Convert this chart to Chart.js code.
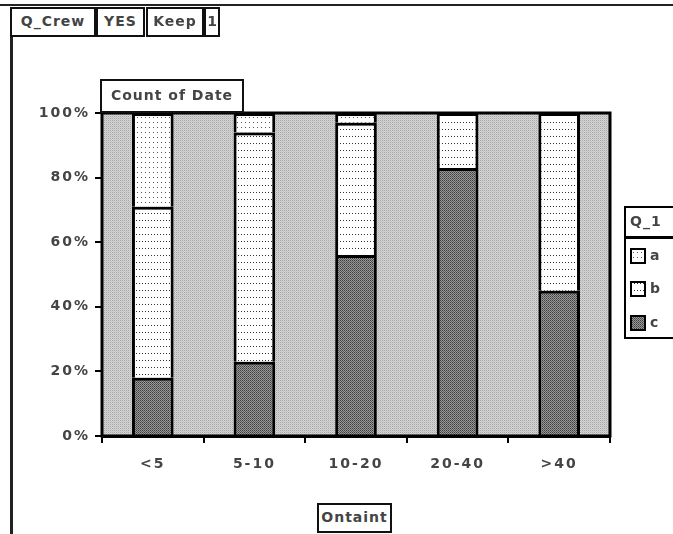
<!DOCTYPE html>
<html>
<head>
<meta charset="utf-8">
<script src="https://cdn.jsdelivr.net/npm/chart.js@4/dist/chart.umd.min.js"></script>
<style>
  body { margin: 0; background: #fff; width: 673px; height: 534px; overflow: hidden; position: relative; }
  #wrap { position: absolute; left: 0; top: 0; width: 673px; height: 534px; }
  .btn { position: absolute; border: 2px solid #111; background: #fff; color: #444;
         font: bold 14px "DejaVu Sans", sans-serif; letter-spacing: 1px; line-height: 25px;
         text-align: center; box-sizing: border-box; white-space: nowrap; overflow: hidden; }
  .line { position: absolute; background: #222; }
</style>
</head>
<body>
<div id="wrap"><canvas id="myChart" width="673" height="534"></canvas></div>

<!-- sheet frame lines -->
<div class="line" style="left:0;top:4px;width:673px;height:2px;"></div>
<div class="line" style="left:10px;top:36px;width:3px;height:498px;"></div>

<!-- pivot field buttons -->
<div class="btn" style="left:10px;top:7px;width:86px;height:30px;">Q_Crew</div>
<div class="btn" style="left:96px;top:7px;width:49px;height:30px;">YES</div>
<div class="btn" style="left:146px;top:7px;width:58px;height:30px;">Keep</div>
<div class="btn" style="left:204px;top:7px;width:16px;height:30px;letter-spacing:0;">1</div>
<div class="btn" style="left:100px;top:79px;width:144px;height:34px;line-height:29px;">Count of Date</div>
<div class="btn" style="left:317px;top:503px;width:75px;height:30px;">Ontaint</div>

<script>
const categories = ['<5', '5-10', '10-20', '20-40', '>40'];
// percent of each bar (100% stacked)
const seriesA = [29, 6, 3, 0, 0];
const seriesB = [53, 71, 41, 17, 55];
const seriesC = [18, 23, 56, 83, 45];
const yTicks = [0, 20, 40, 60, 80, 100];
const legendTitle = 'Q_1';

// little pixel patterns like the old excel fills
function makePattern(w, h, draw) {
  var c = document.createElement('canvas');
  c.width = w; c.height = h;
  var g = c.getContext('2d');
  draw(g);
  return c.getContext('2d').createPattern(c, 'repeat');
}
function px(g, x, y, col) { g.fillStyle = col; g.fillRect(x, y, 1, 1); }

var greyBg = makePattern(2, 2, function (g) {
  px(g, 0, 0, '#a8a8a8'); px(g, 1, 0, '#d4d4d4');
  px(g, 0, 1, '#d4d4d4'); px(g, 1, 1, '#c4c4c4');
});
var patA = makePattern(4, 5, function (g) {
  g.fillStyle = '#fff'; g.fillRect(0, 0, 4, 5);
  px(g, 1, 2, '#555');
});
var patB = makePattern(3, 7, function (g) {
  g.fillStyle = '#fff'; g.fillRect(0, 0, 3, 7);
  px(g, 1, 3, '#333');
});
var patC = makePattern(2, 2, function (g) {
  px(g, 0, 0, '#3c3c3c'); px(g, 1, 0, '#9a9a9a');
  px(g, 0, 1, '#9a9a9a'); px(g, 1, 1, '#5a5a5a');
});

// grey plot area + frame + legend box
const plotStuff = {
  id: 'plotStuff',
  beforeDraw(chart) {
    chart.ctx.letterSpacing = '2px';
  },
  beforeDatasetsDraw(chart) {
    var a = chart.chartArea, ctx = chart.ctx;
    ctx.save();
    ctx.fillStyle = greyBg;
    ctx.fillRect(a.left, a.top, a.right - a.left, a.bottom - a.top);
    ctx.restore();
  },
  afterDatasetsDraw(chart) {
    var a = chart.chartArea, ctx = chart.ctx;
    ctx.save();
    ctx.strokeStyle = '#000';
    ctx.lineWidth = 3;
    ctx.strokeRect(a.left, a.top, a.right - a.left, a.bottom - a.top);
    ctx.restore();
  },
  afterDraw(chart) {
    var ctx = chart.ctx;
    ctx.save();
    ctx.letterSpacing = '1px';
    var x = 625, y = 207;
    ctx.fillStyle = '#fff';
    ctx.fillRect(x, y, 60, 131);
    ctx.strokeStyle = '#000';
    ctx.lineWidth = 2;
    ctx.strokeRect(x, y, 60, 131);
    ctx.fillStyle = '#000';
    ctx.fillRect(x, 236, 60, 3);
    ctx.fillStyle = '#444';
    ctx.font = 'bold 14px "DejaVu Sans"';
    ctx.textBaseline = 'middle';
    ctx.fillText(legendTitle, x + 5, 222);
    // legend top to bottom: a, b, c
    var items = [chart.data.datasets[2], chart.data.datasets[1], chart.data.datasets[0]];
    var rows = [256, 289, 323];
    items.forEach(function (ds, i) {
      ctx.fillStyle = ds.backgroundColor;
      ctx.fillRect(x + 6, rows[i] - 7, 14, 14);
      ctx.strokeStyle = '#000';
      ctx.lineWidth = 2;
      ctx.strokeRect(x + 6, rows[i] - 7, 14, 14);
      ctx.fillStyle = '#444';
      ctx.fillText(ds.label, x + 25, rows[i]);
    });
    ctx.restore();
  }
};

const data = {
  labels: categories,
  datasets: [
    { label: 'c', data: seriesC, backgroundColor: patC },
    { label: 'b', data: seriesB, backgroundColor: patB },
    { label: 'a', data: seriesA, backgroundColor: patA }
  ].map(function (d) {
    d.borderColor = '#000';
    d.borderWidth = 3;
    d.borderSkipped = 'start';
    d.barPercentage = 0.41;
    d.categoryPercentage = 1;
    return d;
  })
};

const config = {
  type: 'bar',
  data: data,
  plugins: [plotStuff],
  options: {
    responsive: false,
    animation: false,
    events: [],
    layout: { padding: { top: 113, right: 63, bottom: 58, left: 0 } },
    plugins: { legend: { display: false }, tooltip: { enabled: false } },
    scales: {
      x: {
        stacked: true,
        afterFit: function (s) { s.height = 40; },
        grid: { drawOnChartArea: false, color: '#000', lineWidth: 2, tickLength: 7, offset: true },
        border: { color: '#000', width: 3 },
        ticks: { color: '#444', padding: 13, font: { family: 'DejaVu Sans', size: 14, weight: 'bold' } }
      },
      y: {
        stacked: true,
        min: 0,
        max: 100,
        afterFit: function (s) { s.width = 102; },
        afterBuildTicks: function (s) { s.ticks = yTicks.map(function (v) { return { value: v }; }); },
        grid: { drawOnChartArea: false, color: '#000', lineWidth: 2, tickLength: 7 },
        border: { color: '#000', width: 2 },
        ticks: {
          color: '#444', padding: 5,
          font: { family: 'DejaVu Sans', size: 14, weight: 'bold' },
          callback: function (v) { return v + '%'; }
        }
      }
    }
  }
};

const myChart = new Chart(document.getElementById('myChart'), config);
</script>
</body>
</html>
